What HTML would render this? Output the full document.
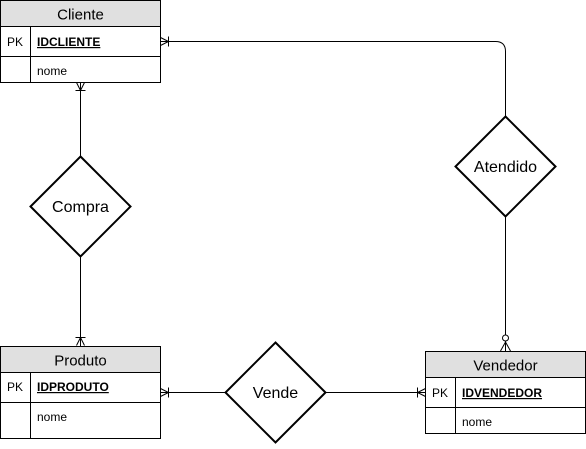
<!DOCTYPE html>
<html><head><style>
body{margin:0;width:586px;height:444px;background:#fff;overflow:hidden}
svg text{font-family:"Liberation Sans",sans-serif}
</style></head><body>
<svg width="586" height="444" viewBox="0 0 586 444" xmlns="http://www.w3.org/2000/svg">
<g fill="none" stroke="#000" stroke-width="1">
<!-- Cliente - Atendido -->
<path d="M160.5 41.5H495.5Q505.5 41.5 505.5 51.5V116"/>
<path d="M160.5 37.5L168.5 41.5L160.5 45.5M168.5 36.5V46.5"/>
<!-- Atendido - Vendedor -->
<path d="M505.5 216V351"/>
<circle cx="505.5" cy="338" r="3" fill="#fff"/>
<path d="M500.5 351L505.5 342L510.5 351"/>
<!-- Cliente - Compra -->
<path d="M80.5 82V156M80.5 256V346"/>
<path d="M76.5 82.5L80.5 90.5L84.5 82.5M75.5 90.5H85.5"/>
<path d="M76.5 345.5L80.5 337.5L84.5 345.5M75.5 337.5H85.5"/>
<!-- Vende -->
<path d="M160.5 392.5H225M325 392.5H425"/>
<path d="M160.5 388.5L168.5 392.5L160.5 396.5M168.5 387.5V397.5"/>
<path d="M425.5 388.5L417.5 392.5L425.5 396.5M417.5 387.5V397.5"/>
</g>
<!-- diamonds -->
<g fill="#fff" stroke="#000" stroke-width="2">
<path d="M80.5 156.5L130.5 206.5L80.5 256.5L30.5 206.5Z"/>
<path d="M505.5 116.5L555.5 166.5L505.5 216.5L455.5 166.5Z"/>
<path d="M275.5 342.5L325.5 392.5L275.5 442.5L225.5 392.5Z"/>
</g>
<g font-size="16" text-anchor="middle">
<text x="80.5" y="212">Compra</text>
<text x="505.5" y="172">Atendido</text>
<text x="275.5" y="398">Vende</text>
</g>
<!-- tables -->
<g stroke="#000" stroke-width="1">
<rect x="0.5" y="0.5" width="160" height="26" fill="#e0e0e0"/>
<rect x="0.5" y="26.5" width="160" height="56" fill="#fff"/>
<path d="M0.5 56.5H160.5M30.5 26.5V82.5"/>
<rect x="0.5" y="346.5" width="160" height="26" fill="#e0e0e0"/>
<rect x="0.5" y="372.5" width="160" height="66" fill="#fff"/>
<path d="M0.5 402.5H160.5M30.5 372.5V438.5"/>
<rect x="425.5" y="351.5" width="160" height="26" fill="#e0e0e0"/>
<rect x="425.5" y="377.5" width="160" height="56" fill="#fff"/>
<path d="M425.5 407.5H585.5M455.5 377.5V433.5"/>
</g>
<g font-size="15" text-anchor="middle">
<text x="80.5" y="19.5">Cliente</text>
<text x="80.5" y="365.5">Produto</text>
<text x="505.5" y="370.5">Vendedor</text>
</g>
<g font-size="12">
<text x="7" y="46">PK</text>
<text x="37" y="46" font-weight="bold" text-decoration="underline">IDCLIENTE</text>
<text x="37" y="75">nome</text>
<text x="7" y="391">PK</text>
<text x="37" y="391" font-weight="bold" text-decoration="underline">IDPRODUTO</text>
<text x="37" y="421">nome</text>
<text x="432" y="397">PK</text>
<text x="462" y="397" font-weight="bold" text-decoration="underline">IDVENDEDOR</text>
<text x="462" y="426">nome</text>
</g>
</svg>
</body></html>
